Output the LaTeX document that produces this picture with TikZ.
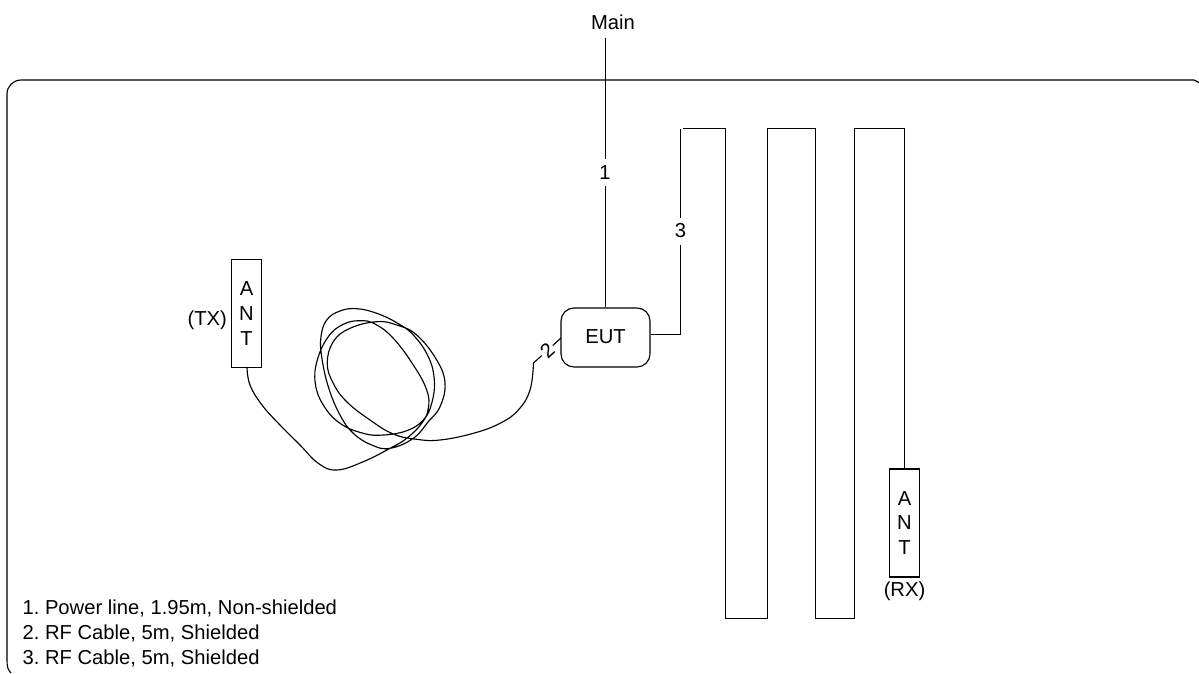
\documentclass[tikz,border=0pt]{standalone}
\usepackage{fontspec}
\setmainfont{Liberation Sans}
\frenchspacing
\tikzset{
  antenna/.style={
    draw,
    rectangle,
    minimum width=0.59cm,
    minimum height=2.16cm,
    inner sep=0pt,
    align=center,
    font=\fontsize{11.5}{14.2}\selectfont
  },
  eutbox/.style={
    draw,
    rectangle,
    rounded corners=0.26cm,
    minimum width=1.78cm,
    minimum height=1.18cm,
    inner sep=0pt,
    font=\fontsize{11.5}{14}\selectfont
  },
  caption/.style={
    inner sep=0pt,
    font=\fontsize{11.5}{14}\selectfont
  },
  linelabel/.style={
    fill=white,
    inner xsep=1pt,
    inner ysep=0pt,
    minimum height=0.54cm,
    font=\fontsize{11.5}{14}\selectfont
  }
}
\begin{document}
\begin{tikzpicture}[line width=0.65pt, x=0.02cm, y=-0.02cm]
  \useasboundingbox (0,0) rectangle (1199,673);

  \draw (11,673) .. controls (8,670) and (7,667) .. (7,660)
    [rounded corners=0.28cm] -- (7,80) [sharp corners] -- (1194,80) -- (1199,82.5);

  \node[caption] (main) at (613,22) {Main};
  \node[eutbox] (EUT) at (605.5,337.5) {\raisebox{1pt}{EUT}};
  \node[antenna] (TX) at (246.5,313.3) {A\\N\\T};
  \node[antenna] (RX) at (904.5,523) {A\\N\\T};
  \node[caption, anchor=east] (txlabel) at (227.5,320.5) {(TX)};
  \node[caption] (rxlabel) at (904.5,591) {(RX)};

  \coordinate (mainend) at (605.5,38);
  \draw (mainend) -- (EUT.north);
  \node[linelabel] (one) at (605,172.5) {1};

  \coordinate (eutout) at (650.5,334.5);
  \coordinate (meandertop) at (680.5,128.5);
  \coordinate (meanderstart) at (683,128.5);
  \draw (eutout) -| (meandertop);
  \draw (meanderstart) -- (725.5,128.5) -- (725.5,618.5) -- (767.5,618.5) -- (767.5,128.5)
    -- (815.5,128.5) -- (815.5,618.5) -- (854.5,618.5) -- (854.5,128.5) -- (904.5,128.5) -- (RX.north);
  \node[linelabel] (three) at (680.5,231) {3};

  \coordinate (cableend) at (533.5,363);
  \coordinate (eutport) at (561,338);
  \draw (cableend) -- node[linelabel, sloped, minimum height=0pt, inner ysep=1pt] (two) {2} (eutport);

  % coil of the RF cable
  \draw plot[smooth, tension=0.7] coordinates {
    (247,367) (250,385) (262,405) (280,425) (300,445)
    (318.3,463.3) (336.7,470) (363.3,461.7) (390,448.3) (406.7,438.3) (421.7,423.3)
    (428.3,408.3) (426.7,390) (413.3,365) (393.3,338.3) (375,324) (360,320.7)
    (343.3,324.3) (328.3,336.7) (317.3,360) (315.3,383.3) (323.3,405) (340,423.3)
    (363.3,433.3) (383.3,435) (406.7,430.7) (423.3,420) (431.7,403.3) (434.3,380)
    (428.3,356.7) (413.3,335) (396.7,322.7) (376.7,313.3) (356.7,308.7) (340,311)
    (326.7,320) (321,336.7) (321.7,356.7) (328.3,386.7) (340,415) (353.3,433.3)
    (371.7,445) (390,448.3) (413.3,438.3) (428.3,421.7) (440,406.7) (445,383.3)
    (436.7,360) (416.7,335) (396.7,325) (376.7,321.7) (350,328.3) (333.3,341.7)
    (327.3,363.3) (333.3,383.3) (346.7,401.7) (370,420) (393.3,434) (416.7,439.3)
    (440,440) (473.3,433.3) (500,423.3) (518.3,410) (530,390) (cableend)};

  \node[caption, anchor=west] (item1) at (22,608.5) {1. Power line, 1.95m, Non-shielded};
  \node[caption, anchor=west] (item2) at (22,633.5) {2. RF Cable, 5m, Shielded};
  \node[caption, anchor=west] (item3) at (22,658.5) {3. RF Cable, 5m, Shielded};
\end{tikzpicture}
\end{document}
